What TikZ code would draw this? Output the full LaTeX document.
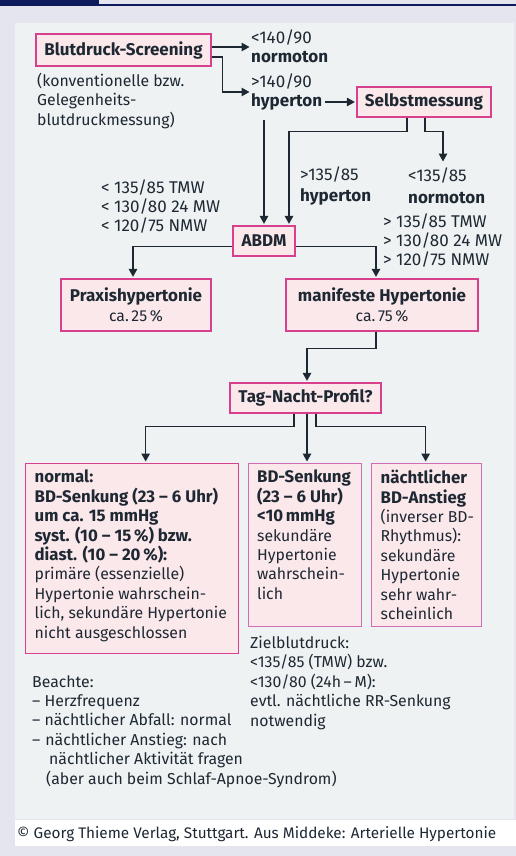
\documentclass[tikz,border=0pt]{standalone}
\usepackage{fontspec}
\setmainfont{Fira Sans}
\usetikzlibrary{arrows.meta,calc}
\definecolor{bgc}{HTML}{E5E5EF}
\definecolor{panel}{HTML}{EEF2F2}
\definecolor{navy}{HTML}{0E1A5C}
\definecolor{boxfill}{HTML}{FBE8EB}
\definecolor{boxline}{HTML}{D6408C}
\definecolor{boxline2}{HTML}{D36CB4}
\definecolor{ink}{HTML}{1E2833}
\newcommand\myfs{\fontsize{15.8}{19.4}\selectfont}
\newcommand\mybf{\fontsize{16.8}{19.4}\selectfont\bfseries}
\newcommand\mybig{\fontsize{17}{19.4}\selectfont}
\tikzset{
  pbox/.style={draw=boxline,line width=1.3pt,fill=boxfill,inner sep=0pt,font=\fontsize{17}{19.4}\selectfont\bfseries,text=ink},
  tbox/.style={pbox,font=\myfs,anchor=north west,inner xsep=9,inner ysep=6.5},
  lbl/.style={inner sep=0pt,align=left,text=ink,anchor=west,font=\myfs},
  arr/.style={draw=ink,line width=1.4pt,-{Triangle[length=8pt,width=8.5pt]},shorten >=1.5pt},
}
\begin{document}
\begin{tikzpicture}[x=1pt,y=-1pt]
\useasboundingbox (0,0) rectangle (516,856);
% backgrounds
\fill[bgc] (0,0) rectangle (516,856);
\fill[navy] (0,0) rectangle (99,5);
\fill[navy] (0,4) rectangle (516,6.5);
\fill[panel] (15,23) rectangle (514,819);
\fill[white] (15,820) rectangle (516,846);

% row 1
\node[pbox,minimum width=175,minimum height=32] (scr) at (123.5,50) {Blutdruck-Screening};
\node[lbl,font=\mybig] (norm1) at (251,46.5) {<140/90\\\textbf{normoton}};
\node[lbl,font=\mybig] (hyp1) at (251,92) {>140/90\\\textbf{hyperton}};
\node[lbl,anchor=north west] (konv) at (37,73) {(konventionelle bzw.\\Gelegenheits-\\blutdruckmessung)};
\node[pbox,minimum width=134,minimum height=30] (selbst) at (424,102) {Selbstmessung};

\draw[arr] ([yshift=3pt]scr.east) -- (norm1.west |- 0,47);
\draw[arr] ([yshift=-7pt]scr.east) -- ++(11,0) |- (hyp1.west);
\draw[arr] (hyp1.east |- selbst.west) ++(3,0) -- (selbst.west);

% row 2
\node[pbox,minimum width=62,minimum height=30] (abdm) at (264,241) {ABDM};
\node[lbl,font=\fontsize{17}{21.6}\selectfont] (hyp2) at (300,186) {>135/85\\\textbf{hyperton}};
\node[lbl,font=\fontsize{17}{21.6}\selectfont] (norm2) at (408,186) {<135/85\\\textbf{normoton}};
\node[lbl,font=\mybig] (lt) at (101,206.5) {< 135/85 TMW\\< 130/80 24 MW\\< 120/75 NMW};
\node[lbl,font=\mybig] (rt) at (383,240.5) {> 135/85 TMW\\> 130/80 24 MW\\> 120/75 NMW};

\draw[arr] (abdm.north |- 0,120) -- (abdm.north);
\draw[arr] ([xshift=-17pt]selbst.south) -- ++(0,14) -| ([xshift=25pt]abdm.north);
\draw[arr] ([xshift=1pt]selbst.south) -- ++(0,14) -| (443,163);

% row 3
\node[pbox,minimum width=150,minimum height=52,align=center] (praxis) at (136,305) {Praxishypertonie\\\myfs\mdseries ca.\,25\,\%};
\node[pbox,minimum width=192,minimum height=52,align=center] (manif) at (382,305) {manifeste Hypertonie\\\myfs\mdseries ca.\,75\,\%};

\draw[arr] ([yshift=-5.7pt]abdm.west) -| ([xshift=-3pt]praxis.north);
\draw[arr] ([yshift=-5.7pt]abdm.east) -| ([xshift=-6pt]manif.north);

% row 4
\node[pbox,minimum width=151,minimum height=30] (tag) at (305.5,398) {Tag-Nacht-Profil?};
\draw[arr] ([xshift=-6pt]manif.south) -- ++(0,17) -| ([xshift=1.5pt]tag.north);

% bottom boxes
\node[tbox] (nb) at (25,463) {\parbox[c][177pt][t]{195pt}{\raggedright
{\mybf normal:\\BD-Senkung (23 – 6 Uhr)\\um ca. 15 mmHg\\syst. (10 – 15\,\%) bzw.\\diast. (10 – 20\,\%):}\\primäre (essenzielle)\\Hypertonie wahrschein-\\lich, sekundäre Hypertonie\\nicht ausgeschlossen}};
\node[tbox,draw=boxline2,inner xsep=8.5] (mb) at (248,463) {\parbox[c][150pt][t]{96pt}{\raggedright
{\mybf BD-Senkung\\(23 – 6 Uhr)\\<10\,mmHg}\\sekundäre\\Hypertonie\\wahrschein-\\lich}};
\node[tbox,draw=boxline2] (rb) at (371,463) {\parbox[c][150pt][t]{92pt}{\raggedright
{\mybf nächtlicher\\BD-Anstieg}\\\mbox{(inverser BD-}\\Rhythmus):\\sekundäre\\Hypertonie\\sehr wahr-\\scheinlich}};

\draw[arr] ([xshift=-11.5pt]tag.south) -- ++(0,12.7) -| ([xshift=13.5pt]nb.north);
\draw[arr] ([xshift=1.5pt]tag.south) -- ([xshift=1.5pt]tag.south |- mb.north);
\draw[arr] ([xshift=10.5pt]tag.south) -- ++(0,12.7) -| ([xshift=-1pt]rb.north);

% notes
\node[lbl,anchor=north west] (ziel) at (250,636) {Zielblutdruck:\\<135/85 (TMW) bzw.\\<130/80 (24h\,–\,M):\\evtl. nächtliche RR-Senkung\\notwendig};
\node[lbl,anchor=north west] (beachte) at (32,675) {Beachte:\\– Herzfrequenz\\– nächtlicher Abfall: normal\\–\hspace{5pt}nächtlicher Anstieg: nach\\\hspace{17pt}nächtlicher Aktivität fragen\\\hspace{14pt}(aber auch beim Schlaf-Apnoe-Syndrom)};
\node[lbl,font=\fontsize{15.3}{19.4}\selectfont] (copy) at (17,834) {© Georg Thieme Verlag, Stuttgart. Aus Middeke: Arterielle Hypertonie};
\end{tikzpicture}
\end{document}
